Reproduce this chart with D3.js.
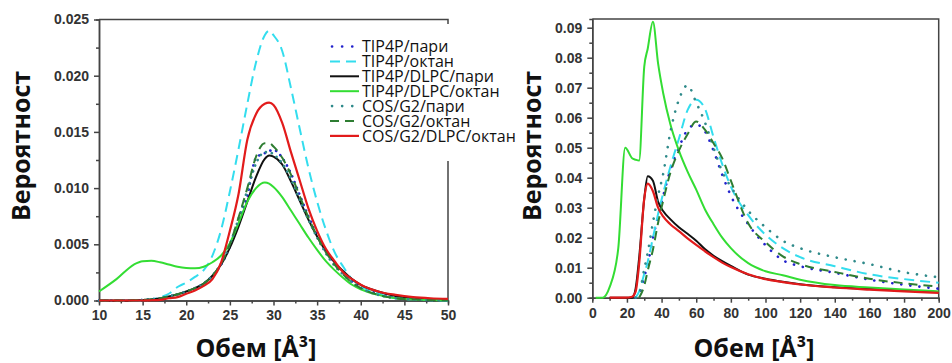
<!DOCTYPE html>
<html>
<head>
<meta charset="utf-8">
<script src="https://cdn.jsdelivr.net/npm/d3@7"></script>
<style>
  body { margin: 0; background: #fff; }
  .tick text { font-family: "Liberation Sans", Arial, sans-serif; font-weight: bold; font-size: 14px; fill: #333; }
  .axis path, .axis line { stroke: #444; stroke-width: 1.5; }
  .title { font-family: "Open Sans", sans-serif; font-weight: bold; font-size: 25px; fill: #111; }
  .legend text { font-family: "Open Sans", sans-serif; font-size: 16px; fill: #111; }
</style>
</head>
<body>
<script>
const width = 952,
      height = 363;

// left panel: volume 10..50
const leftX = [10, 12, 14, 15, 16, 17, 18, 19, 20, 21, 22, 23, 24, 25, 26, 27, 28, 29, 29.5, 30, 31, 32, 33, 34, 35, 36, 37, 38, 39, 40, 42, 44, 46, 48, 50];
const leftTip4pVap = [0, 0, 0.00002, 0.00005, 0.0001, 0.0002, 0.00035, 0.00055, 0.0008, 0.0011, 0.0015, 0.0022, 0.0032, 0.0048, 0.0070, 0.0093, 0.0127, 0.0131, 0.0133, 0.0134, 0.0127, 0.0113, 0.0094, 0.0075, 0.0058, 0.0044, 0.0033, 0.0024, 0.0017, 0.0012, 0.0006, 0.0003, 0.00012, 0.00005, 0.00002];
const leftTip4pOct = [0, 0, 0, 0, 0.0001, 0.0003, 0.0006, 0.0012, 0.0016, 0.0021, 0.0027, 0.0040, 0.0063, 0.0097, 0.0135, 0.0175, 0.0212, 0.0236, 0.0240, 0.0236, 0.0222, 0.0189, 0.0153, 0.0118, 0.0088, 0.0063, 0.0043, 0.0030, 0.0019, 0.0013, 0.0006, 0.0002, 0.0001, 0.00003, 0];
const leftTip4pDlpcVap = [0, 0, 0.00002, 0.00005, 0.0001, 0.0002, 0.00035, 0.00055, 0.0008, 0.0011, 0.0015, 0.0022, 0.0032, 0.0047, 0.0066, 0.0088, 0.0110, 0.0126, 0.0129, 0.0128, 0.0121, 0.0106, 0.0089, 0.0072, 0.0057, 0.0044, 0.0034, 0.0026, 0.0019, 0.0014, 0.0008, 0.0004, 0.0002, 0.0001, 0.00005];
const leftTip4pDlpcOct = [0.0008, 0.0019, 0.0032, 0.0035, 0.00353, 0.0034, 0.0032, 0.0030, 0.00289, 0.00286, 0.0030, 0.0034, 0.0040, 0.0051, 0.0069, 0.0088, 0.0100, 0.0105, 0.0104, 0.0101, 0.0092, 0.0080, 0.0068, 0.0056, 0.0045, 0.0035, 0.0027, 0.0020, 0.0014, 0.0010, 0.0005, 0.0002, 0.0001, 0.00004, 0.00002];
const leftCosVap = [0, 0, 0.00002, 0.00005, 0.0001, 0.0002, 0.00035, 0.00055, 0.0008, 0.0011, 0.0015, 0.0022, 0.0033, 0.0050, 0.0073, 0.0098, 0.0122, 0.0132, 0.0132, 0.0130, 0.0122, 0.0108, 0.0090, 0.0072, 0.0056, 0.0042, 0.0031, 0.0023, 0.0016, 0.0011, 0.0005, 0.0002, 0.0001, 0.00004, 0.00002];
const leftCosOct = [0, 0, 0.00002, 0.00005, 0.0001, 0.0002, 0.00035, 0.00055, 0.0008, 0.0011, 0.0015, 0.0022, 0.0033, 0.0050, 0.0074, 0.0100, 0.0128, 0.0140, 0.0140, 0.0137, 0.0127, 0.0112, 0.0093, 0.0074, 0.0057, 0.0043, 0.0032, 0.0023, 0.0016, 0.0011, 0.0005, 0.0002, 0.0001, 0.00004, 0.00002];
const leftCosDlpcOct = [0, 0, 0, 0, 0.00002, 0.00005, 0.0002, 0.0003, 0.0006, 0.0009, 0.0013, 0.0019, 0.0034, 0.0062, 0.0095, 0.0143, 0.0166, 0.0175, 0.0176, 0.0174, 0.0158, 0.0132, 0.0107, 0.0082, 0.0062, 0.0046, 0.0035, 0.0025, 0.0019, 0.0014, 0.0008, 0.0005, 0.0003, 0.0002, 0.00015];

// right panel: volume 0..200 (null = no data)
const rightX = [0, 2, 6, 10, 15, 19, 23, 25, 27, 30, 32, 35, 38, 41, 45, 50, 55, 60, 65, 70, 75, 80, 90, 100, 110, 120, 140, 160, 180, 200];
const rightTip4pVap = [null, null, null, null, null, null, null, 0, 0.001, 0.007, 0.011, 0.020, 0.027, 0.034, 0.0425, 0.050, 0.056, 0.0577, 0.0555, 0.049, 0.041, 0.034, 0.0245, 0.0175, 0.0125, 0.0105, 0.0083, 0.006, 0.0043, 0.003];
const rightTip4pOct = [null, null, null, null, null, null, null, 0, 0.002, 0.008, 0.012, 0.020, 0.028, 0.035, 0.0435, 0.053, 0.0625, 0.066, 0.063, 0.0535, 0.0445, 0.037, 0.0275, 0.021, 0.0165, 0.0135, 0.0105, 0.0078, 0.0062, 0.005];
const rightTip4pDlpcVap = [null, null, null, 0, 0, 0, 0, 0.003, 0.013, 0.033, 0.0405, 0.039, 0.032, 0.0288, 0.0262, 0.0235, 0.0213, 0.019, 0.0162, 0.014, 0.0122, 0.0106, 0.0077, 0.0063, 0.0053, 0.0045, 0.0035, 0.0029, 0.0024, 0.0019];
const rightTip4pDlpcOct = [null, 0, 0, 0.0035, 0.0165, 0.050, 0.0465, 0.046, 0.0457, 0.077, 0.083, 0.092, 0.078, 0.068, 0.058, 0.049, 0.042, 0.036, 0.0295, 0.0245, 0.020, 0.0165, 0.0115, 0.0088, 0.0075, 0.006, 0.0042, 0.0034, 0.0027, 0.0021];
const rightCosVap = [null, null, null, null, null, null, null, 0, 0.0012, 0.0095, 0.015, 0.025, 0.034, 0.0415, 0.055, 0.066, 0.0708, 0.065, 0.0585, 0.050, 0.042, 0.037, 0.029, 0.0235, 0.019, 0.0165, 0.0135, 0.0112, 0.0085, 0.0068];
const rightCosOct = [null, null, null, null, null, null, null, null, 0, 0.004, 0.009, 0.016, 0.025, 0.0325, 0.0415, 0.049, 0.0545, 0.0587, 0.056, 0.0515, 0.0465, 0.039, 0.0248, 0.0185, 0.0138, 0.0112, 0.0086, 0.0063, 0.0048, 0.0037];
const rightCosDlpcOct = [null, null, null, 0, 0, 0, 0.0003, 0.002, 0.011, 0.033, 0.038, 0.0355, 0.030, 0.027, 0.0245, 0.0222, 0.0198, 0.0176, 0.0155, 0.0135, 0.0117, 0.0102, 0.0078, 0.0062, 0.0052, 0.0044, 0.0034, 0.0027, 0.0021, 0.0016];

const seriesNames = ["TIP4P/пари", "TIP4P/октан", "TIP4P/DLPC/пари", "TIP4P/DLPC/октан", "COS/G2/пари", "COS/G2/октан", "COS/G2/DLPC/октан"];
const seriesColors = ["#2222cc", "#33ddee", "#111111", "#33dd33", "#2f8a8a", "#2e7d32", "#e21b1b"];
const seriesDotted = [true, false, false, false, true, false, false];
const seriesDash = [null, "10,6", null, null, null, "9,6", null];

const leftSeries = [leftTip4pVap, leftTip4pOct, leftTip4pDlpcVap, leftTip4pDlpcOct, leftCosVap, leftCosOct, leftCosDlpcOct];
const rightSeries = [rightTip4pVap, rightTip4pOct, rightTip4pDlpcVap, rightTip4pDlpcOct, rightCosVap, rightCosOct, rightCosDlpcOct];

const leftXTicks = [10, 15, 20, 25, 30, 35, 40, 45, 50];
const leftYTicks = [0, 0.005, 0.010, 0.015, 0.020, 0.025];
const rightXTicks = [0, 20, 40, 60, 80, 100, 120, 140, 160, 180, 200];
const rightYTicks = [0, 0.01, 0.02, 0.03, 0.04, 0.05, 0.06, 0.07, 0.08, 0.09];

const svg = d3.select("body")
    .append("svg")
    .attr("width", width)
    .attr("height", height);

// apply stroke style for series i; dotStep = spacing of round dots
function styleStroke(sel, i, dotStep) {
  sel.attr("stroke", seriesColors[i])
     .attr("fill", "none");
  if (seriesDotted[i]) {
    sel.attr("stroke-width", 2.6)
       .attr("stroke-linecap", "round")
       .attr("stroke-dasharray", `0.1,${dotStep}`);
  } else {
    sel.attr("stroke-width", i === 6 ? 2.2 : 2)
       .attr("stroke-dasharray", seriesDash[i]);
  }
}

function panel(opts) {
  const x = d3.scaleLinear().domain(opts.xDomain).range([opts.left, opts.right]);
  const y = d3.scaleLinear().domain(opts.yDomain).range([opts.bottom, opts.top]);
  const g = svg.append("g");

  // minor ticks (halfway between majors)
  const xMinor = d3.pairs(opts.xTicks).map(p => (p[0] + p[1]) / 2);
  const yMinor = d3.pairs(opts.yTicks).map(p => (p[0] + p[1]) / 2);

  g.append("g").attr("class", "axis")
      .attr("transform", `translate(0,${opts.bottom})`)
      .call(d3.axisBottom(x).tickValues(xMinor).tickSize(3).tickFormat(""));
  g.append("g").attr("class", "axis")
      .attr("transform", `translate(${opts.left},0)`)
      .call(d3.axisLeft(y).tickValues(yMinor).tickSize(3).tickFormat(""));

  g.append("g").attr("class", "axis")
      .attr("transform", `translate(0,${opts.bottom})`)
      .call(d3.axisBottom(x).tickValues(opts.xTicks).tickSize(5).tickSizeOuter(0).tickPadding(5).tickFormat(d3.format("d")));
  g.append("g").attr("class", "axis")
      .attr("transform", `translate(${opts.left},0)`)
      .call(d3.axisLeft(y).tickValues(opts.yTicks).tickSize(5).tickSizeOuter(0).tickPadding(5).tickFormat(d3.format(opts.yFormat)));

  // frame top/right
  g.append("path")
      .attr("d", `M${opts.left},${opts.top}H${opts.right}V${opts.bottom}`)
      .attr("fill", "none")
      .attr("stroke", "#444")
      .attr("stroke-width", 1.5);

  const line = d3.line()
      .defined(d => d[1] != null)
      .x(d => x(d[0]))
      .y(d => y(d[1]))
      .curve(d3.curveMonotoneX);

  opts.series.forEach((vals, i) => {
    g.append("path")
        .datum(opts.xs.map((v, j) => [v, vals[j]]))
        .call(styleStroke, i, opts.dotStep)
        .attr("d", line);
  });

  // axis titles
  svg.append("text")
      .attr("class", "title")
      .attr("text-anchor", "middle")
      .attr("transform", `translate(${opts.yTitleX},146) rotate(-90)`)
      .text("Вероятност");
  svg.append("text")
      .attr("class", "title")
      .attr("text-anchor", "middle")
      .attr("x", opts.xTitleX)
      .attr("y", 357)
      .text("Обем [Å³]");
}

panel({
  xs: leftX, series: leftSeries,
  xDomain: [10, 50], yDomain: [0, 0.025],
  left: 99, right: 448, top: 19.5, bottom: 300.5,
  xTicks: leftXTicks, yTicks: leftYTicks, yFormat: ".3f",
  yTitleX: 30, xTitleX: 256, dotStep: 6
});

panel({
  xs: rightX, series: rightSeries,
  xDomain: [0, 200], yDomain: [0, 0.0929],
  left: 592.3, right: 938.7, top: 19, bottom: 297.7,
  xTicks: rightXTicks, yTicks: rightYTicks, yFormat: ".2f",
  yTitleX: 541, xTitleX: 754, dotStep: 9
});

// legend
const legend = svg.append("g").attr("class", "legend");
legend.append("rect")
    .attr("x", 326).attr("y", 24)
    .attr("width", 196).attr("height", 137)
    .attr("fill", "#fff");

seriesNames.forEach((name, i) => {
  const yy = 46.5 + i * 14.9;
  legend.append("line")
      .attr("x1", seriesDotted[i] ? 332 : 330).attr("x2", 359)
      .attr("y1", yy).attr("y2", yy)
      .call(styleStroke, i, 10);
  legend.append("text")
      .attr("x", 362).attr("y", yy)
      .attr("dy", "0.35em")
      .text(name);
});
</script>
</body>
</html>
